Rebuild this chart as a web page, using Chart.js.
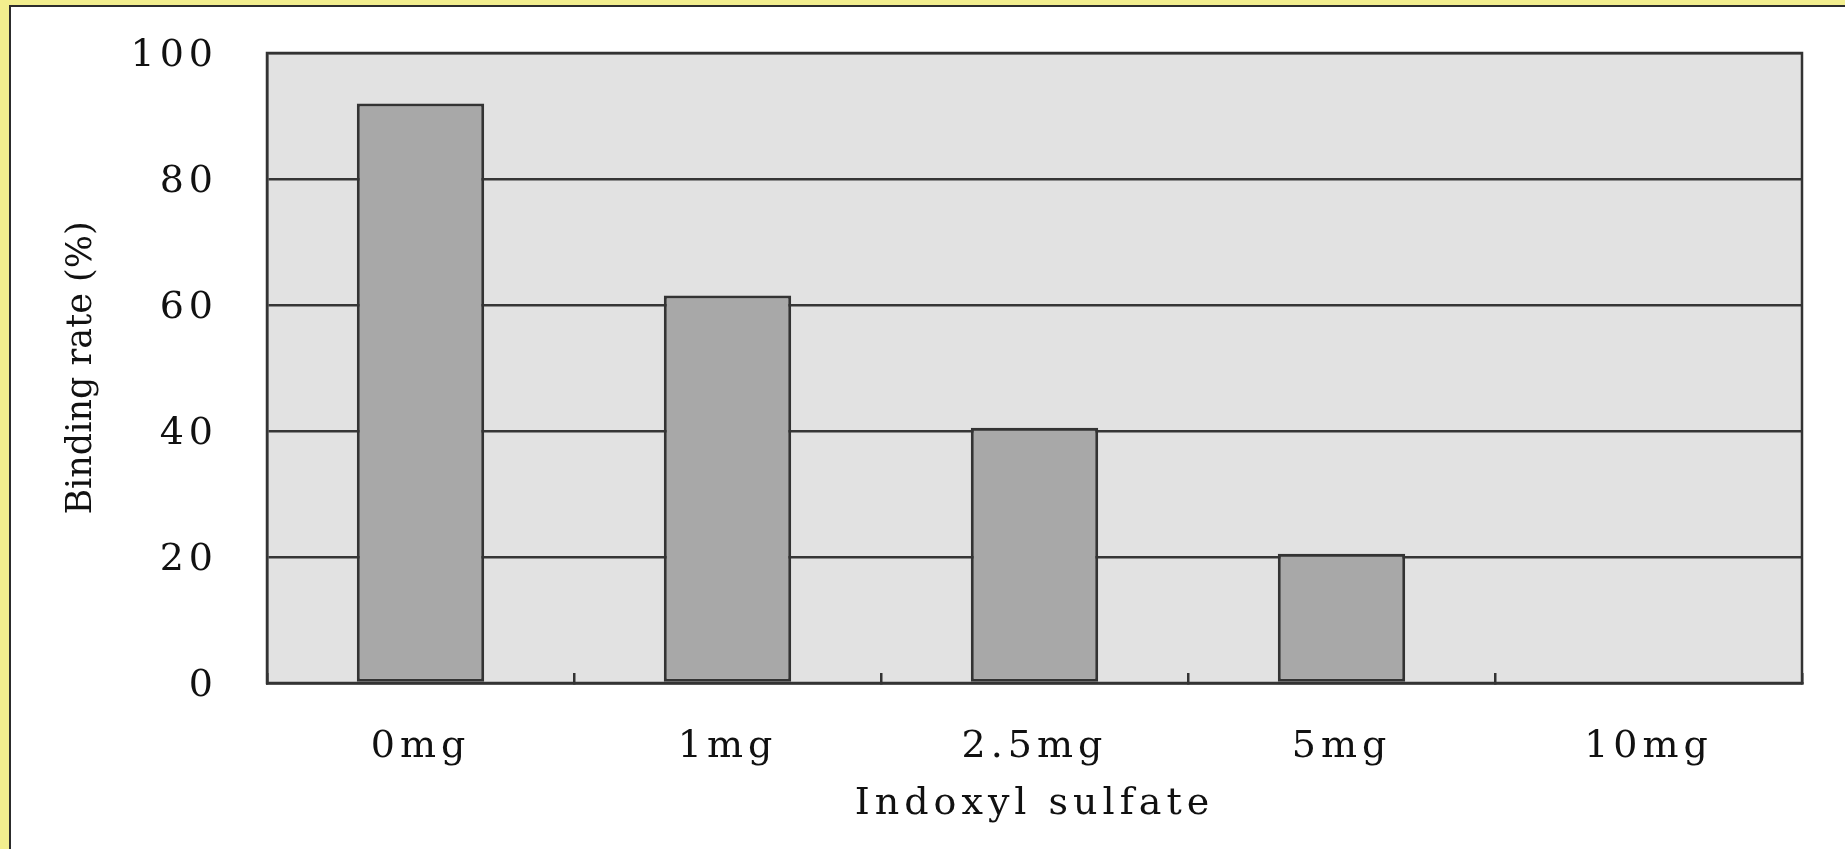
<!DOCTYPE html>
<html>
<head>
<meta charset="utf-8">
<title>Binding rate vs Indoxyl sulfate</title>
<script src="https://cdn.jsdelivr.net/npm/chart.js@4.4.1/dist/chart.umd.min.js"></script>
<style>
  html, body { margin: 0; padding: 0; }
  body { width: 1845px; height: 849px; background: #f2ee8e; overflow: hidden; position: relative; }
  #panel {
    position: absolute; left: 9px; top: 5px;
    width: 1834px; height: 842px;
    background: #fff;
    border-left: 2px solid #2c2c2c;
    border-top: 2px solid #2c2c2c;
  }
  #wrap { position: relative; width: 1834px; height: 842px; }
</style>
</head>
<body>
<div id="panel"><div id="wrap"><canvas id="chart"></canvas></div></div>
<script>
// ── data ──────────────────────────────────────────────
const doseLabels  = ['0mg', '1mg', '2.5mg', '5mg', '10mg'];
const bindingRate = [92, 61.5, 40.5, 20.5, 0];
const yTickValues = [0, 20, 40, 60, 80, 100];

const COLORS = {
  plotBg: '#e2e2e2',
  bar:    '#a8a8a8',
  edge:   '#333333',
  grid:   '#363636',
  text:   '#111111',
};

Chart.defaults.font.family = '"DejaVu Serif", "Liberation Serif", serif';
Chart.defaults.color = COLORS.text;

// letter spacing so the serif text gets the wide look of the original
const SPACING = '5px';
const spacingPlugin = {
  id: 'spacing',
  beforeUpdate(chart) { chart.ctx.letterSpacing = SPACING; },
  beforeDraw(chart) {
    chart.ctx.letterSpacing = SPACING;
    const y = chart.scales.y;
    if (y && !y._wrapped) {
      const orig = y.drawTitle;
      y.drawTitle = function () {
        this.ctx.letterSpacing = '0px';
        orig.call(this);
        this.ctx.letterSpacing = SPACING;
      };
      y._wrapped = true;
    }
  },
};

// grey plot background + frame around the chart area
const plotAreaPlugin = {
  id: 'plotArea',
  beforeDraw(chart) {
    const { ctx, chartArea: a } = chart;
    ctx.save();
    ctx.fillStyle = COLORS.plotBg;
    ctx.fillRect(a.left, a.top, a.right - a.left, a.bottom - a.top);
    ctx.restore();
  },
  afterDraw(chart) {
    const { ctx, chartArea: a } = chart;
    ctx.save();
    ctx.strokeStyle = COLORS.edge;
    ctx.lineWidth = 2.5;
    ctx.strokeRect(a.left, a.top, a.right - a.left, a.bottom - a.top);
    ctx.restore();
  },
};

new Chart(document.getElementById('chart'), {
  type: 'bar',
  data: {
    labels: doseLabels,
    datasets: [{
      data: bindingRate,
      backgroundColor: COLORS.bar,
      borderColor: COLORS.edge,
      borderWidth: 3,
      borderSkipped: false,
      categoryPercentage: 1,
      barPercentage: 0.415,
    }],
  },
  options: {
    responsive: true,
    maintainAspectRatio: false,
    animation: false,
    layout: { padding: { top: 46, right: 43, left: 0, bottom: 0 } },
    plugins: {
      legend: { display: false },
      tooltip: { enabled: false },
    },
    scales: {
      x: {
        grid: {
          display: true,
          drawOnChartArea: false,
          drawTicks: true,
          tickLength: -10,
          color: COLORS.edge,
          lineWidth: 2.5,
        },
        border: { display: true, color: COLORS.edge, width: 2.5 },
        ticks: { color: COLORS.text, font: { size: 38 }, padding: 51 },
        title: {
          display: true,
          text: 'Indoxyl sulfate',
          color: COLORS.text,
          font: { size: 38 },
          padding: { top: 0, bottom: 22 },
        },
        afterFit: s => { s.height = 166; s.paddingLeft = 0; s.paddingRight = 0; },
      },
      y: {
        min: 0,
        max: 100,
        afterBuildTicks: s => { s.ticks = yTickValues.map(v => ({ value: v })); },
        grid: { color: COLORS.grid, lineWidth: 2.5, drawTicks: false },
        border: { display: true, color: COLORS.edge, width: 2.5 },
        ticks: { color: COLORS.text, font: { size: 38 }, padding: 49, labelOffset: 3 },
        title: {
          display: true,
          text: 'Binding rate (%)',
          color: COLORS.text,
          font: { size: 35 },
          padding: { top: 50, bottom: 0 },
        },
        afterFit: s => { s.width = 256; s.paddingTop = 0; s.paddingBottom = 0; },
      },
    },
  },
  plugins: [spacingPlugin, plotAreaPlugin],
});
</script>
</body>
</html>
